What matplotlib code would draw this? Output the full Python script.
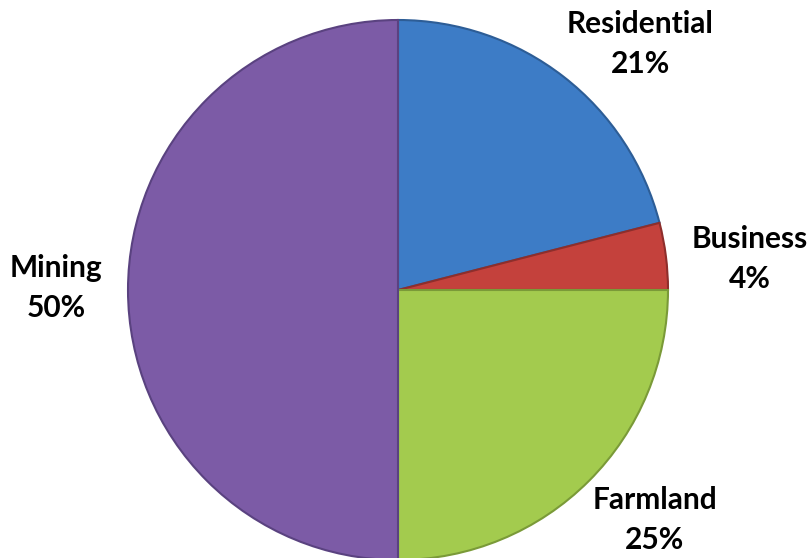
import matplotlib
matplotlib.use("Agg")
import matplotlib.pyplot as plt

categories = ["Residential", "Business", "Farmland", "Mining"]
values = [21, 4, 25, 50]
colors = ["#3d7cc6", "#c4413c", "#a3cb4e", "#7c5ba6"]
edge_colors = ["#2d5d96", "#8e2e2b", "#7a9a38", "#5a4280"]
label_pos = [(640, 44), (750, 259), (56, 288), (655, 520)]
label_order = ["Residential", "Business", "Mining", "Farmland"]

fig = plt.figure(figsize=(8.1, 5.58), dpi=100)
ax = fig.add_axes([0, 0, 1, 1])

wedges, _ = ax.pie(values, colors=colors, startangle=90, counterclock=False,
                   center=(398, -290), radius=270,
                   wedgeprops=dict(linewidth=1.5))
for w, ec in zip(wedges, edge_colors):
    w.set_edgecolor(ec)
ax.set_xlim(0, 810)
ax.set_ylim(-558, 0)
ax.set_aspect("equal")
ax.axis("off")

for name, (x, y) in zip(label_order, label_pos):
    v = values[categories.index(name)]
    ax.text(x, -y, f"{name}\n{v}%", ha="center", va="center",
            fontsize=21.5, fontweight="bold", family="Lato",
            linespacing=1.5, color="black")

fig.savefig("out.png", dpi=100)
